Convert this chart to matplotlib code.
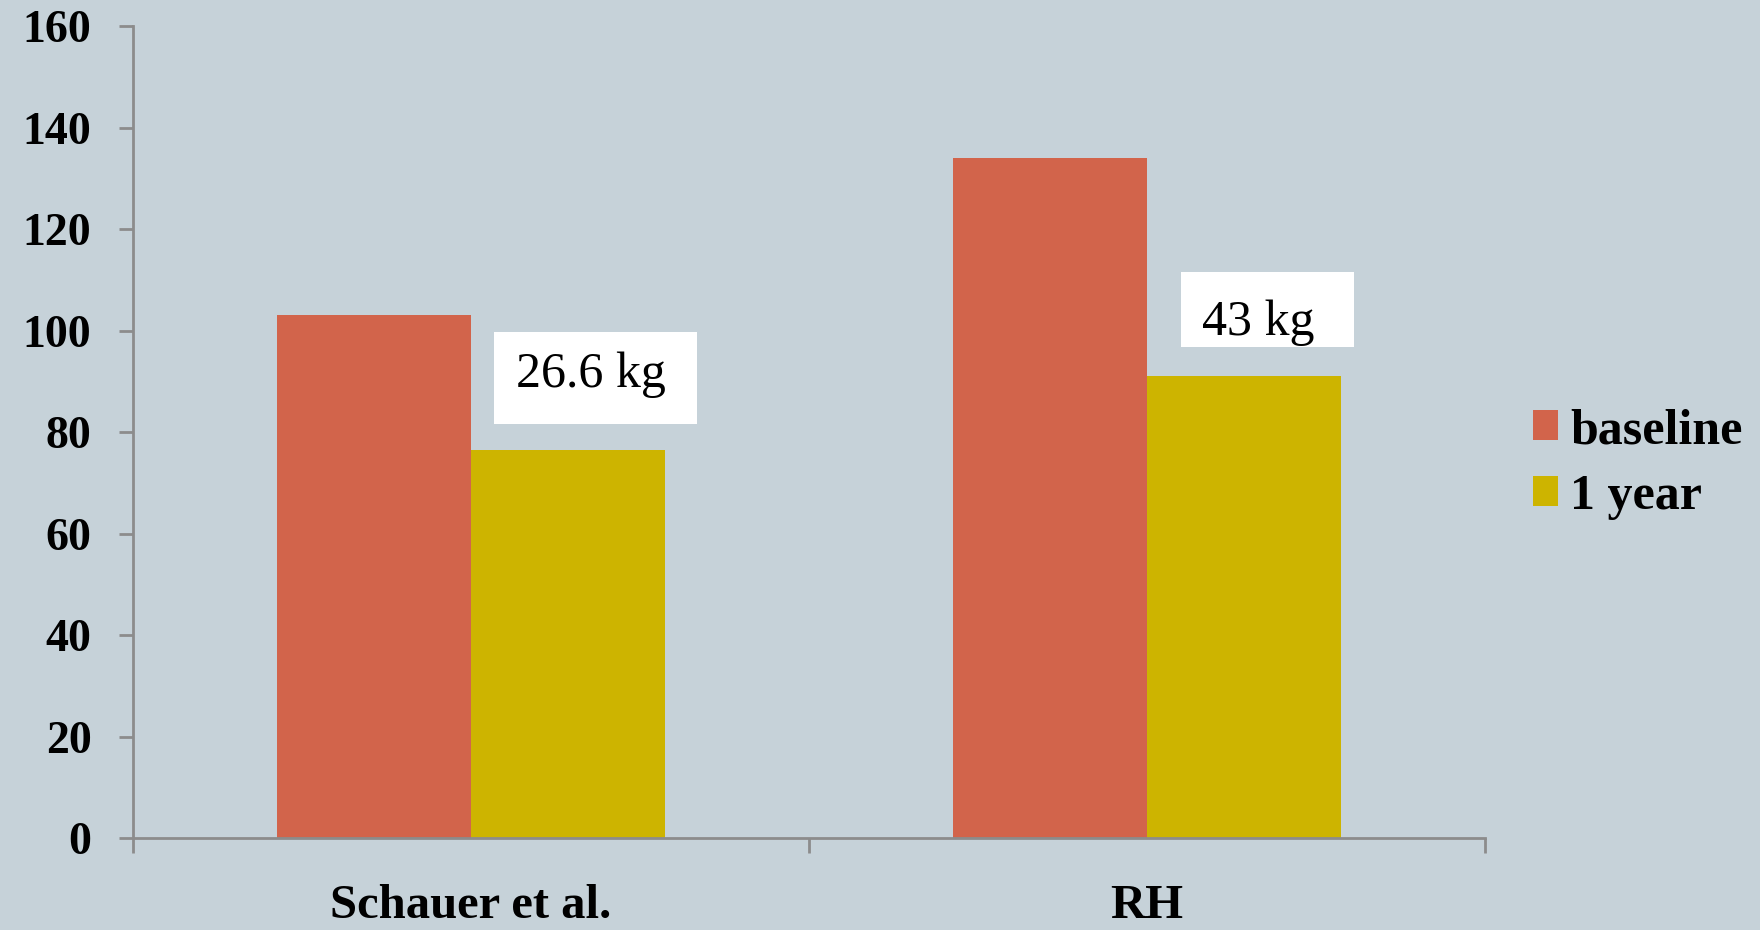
import matplotlib
matplotlib.use("Agg")
import matplotlib.pyplot as plt
from matplotlib.patches import Rectangle
import numpy as np

# Data
categories = ["Schauer et al.", "RH"]
series_names = ["baseline", "1 year"]
baseline = [103.0, 134.0]
one_year = [76.4, 91.0]
loss_labels = ["26.6 kg", "43 kg"]
y_ticks = [0, 20, 40, 60, 80, 100, 120, 140, 160]

# Styling
BG = "#C6D2D9"
RED = "#D2644B"
GOLD = "#CDB400"
AXIS = "#8C8C8C"
plt.rcParams["font.family"] = ["Liberation Serif", "DejaVu Serif"]

fig = plt.figure(figsize=(17.6, 9.3), dpi=100, facecolor=BG)
ax = fig.add_axes([0.0756, 0.0989, 0.7682, 0.8731], facecolor=BG)

x = np.arange(len(categories))
width = 0.287
offset = 0.1435
ax.bar(x - offset, baseline, width, color=RED, label=series_names[0], zorder=2)
ax.bar(x + offset, one_year, width, color=GOLD, label=series_names[1], zorder=2)

ax.set_xlim(-0.5, len(categories) - 0.5)
ax.set_ylim(0, 160)

# Axes: only left and bottom spines
for side in ("top", "right"):
    ax.spines[side].set_visible(False)
for side in ("left", "bottom"):
    ax.spines[side].set_color(AXIS)
    ax.spines[side].set_linewidth(2.0)

ax.set_yticks(y_ticks)
ax.set_yticklabels([str(v) for v in y_ticks], fontsize=33, fontweight="bold")
ax.tick_params(axis="y", length=10, width=2, color=AXIS, pad=20)

# Category boundaries carry the x ticks; labels sit at the centres
ax.set_xticks(np.arange(-0.5, len(categories)), minor=False)
ax.set_xticklabels([])
ax.tick_params(axis="x", which="major", length=11, width=2, color=AXIS)
ax.set_xticks(x, minor=True)
ax.set_xticklabels(categories, minor=True, fontsize=35, fontweight="bold")
ax.tick_params(axis="x", which="minor", length=0, pad=33)

# Weight-loss call-outs in white boxes (box extents in data units)
callout_boxes = [(0.034, 81.6, 0.300, 18.1), (1.050, 96.7, 0.256, 14.8)]
callout_text = [(0.177, 88.9), (1.164, 99.1)]
for (bx, by, bw, bh), (tx, ty), lab in zip(callout_boxes, callout_text, loss_labels):
    ax.add_patch(Rectangle((bx, by), bw, bh, facecolor="white", edgecolor="none", zorder=3))
    ax.text(tx, ty, lab, ha="center", va="baseline", fontsize=36, zorder=4)

leg = fig.legend(loc="center left", bbox_to_anchor=(0.871, 0.501),
                 frameon=False, prop={"weight": "bold", "size": 36},
                 handlelength=0.5, handleheight=0.54, handletextpad=0.24,
                 labelspacing=0.4, borderpad=0, borderaxespad=0)

fig.savefig("out.png", dpi=100, facecolor=BG)
